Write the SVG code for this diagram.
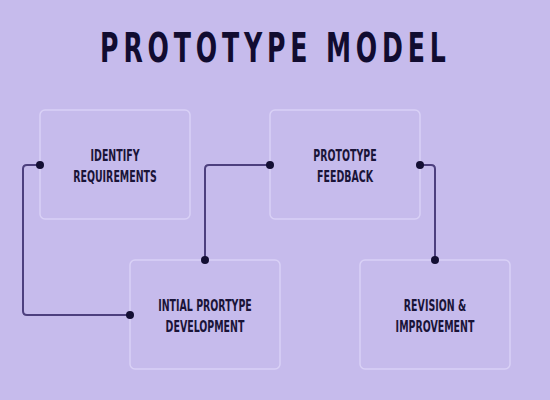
<svg xmlns="http://www.w3.org/2000/svg" width="550" height="400" viewBox="0 0 550 400">
<style>
.bg{fill:#c6bbec}
.box{fill:#c6bbec;stroke:#d9d1f6;stroke-width:1.5}
.lbl{font-family:"DejaVu Sans Condensed","DejaVu Sans","Liberation Sans",sans-serif;font-stretch:condensed;font-weight:bold;font-size:15px;fill:#1a1438;text-anchor:middle}
.title{font-family:"DejaVu Sans Condensed","DejaVu Sans","Liberation Sans",sans-serif;font-stretch:condensed;font-weight:bold;font-size:40px;fill:#110c30;text-anchor:middle}
.conn{fill:none;stroke:#4d3f7e;stroke-width:2}
.dot{fill:#140f33}
</style>
<rect class="bg" x="0" y="0" width="550" height="400"/>
<text class="title" transform="translate(273,62) scale(0.7,1)" x="0" y="0" textLength="494" lengthAdjust="spacing">PROTOTYPE MODEL</text>
<g id="identify">
<rect class="box" x="40" y="110" width="150" height="109" rx="5"/>
<text class="lbl" transform="translate(115,0) scale(0.7,1)"><tspan x="0" y="161">IDENTIFY</tspan><tspan x="0" y="182">REQUIREMENTS</tspan></text>
</g>
<g id="feedback">
<rect class="box" x="270" y="110" width="150" height="109" rx="5"/>
<text class="lbl" transform="translate(345,0) scale(0.7,1)"><tspan x="0" y="161">PROTOTYPE</tspan><tspan x="0" y="182">FEEDBACK</tspan></text>
</g>
<g id="initial">
<rect class="box" x="130" y="260" width="150" height="109" rx="5"/>
<text class="lbl" transform="translate(205,0) scale(0.7,1)"><tspan x="0" y="311">INTIAL PRORTYPE</tspan><tspan x="0" y="332">DEVELOPMENT</tspan></text>
</g>
<g id="revision">
<rect class="box" x="360" y="260" width="150" height="109" rx="5"/>
<text class="lbl" transform="translate(435,0) scale(0.7,1)"><tspan x="0" y="311">REVISION &amp;</tspan><tspan x="0" y="332">IMPROVEMENT</tspan></text>
</g>
<g id="connectors">
<path class="conn" d="M40 165 H27 Q23 165 23 169 V311 Q23 315 27 315 H130"/>
<path class="conn" d="M205 260 V169 Q205 165 209 165 H270"/>
<path class="conn" d="M420 165 H431 Q435 165 435 169 V260"/>
<circle class="dot" cx="40" cy="165" r="4"/>
<circle class="dot" cx="130" cy="315" r="4"/>
<circle class="dot" cx="205" cy="260" r="4"/>
<circle class="dot" cx="270" cy="165" r="4"/>
<circle class="dot" cx="420" cy="165" r="4"/>
<circle class="dot" cx="435" cy="260" r="4"/>
</g>
</svg>
